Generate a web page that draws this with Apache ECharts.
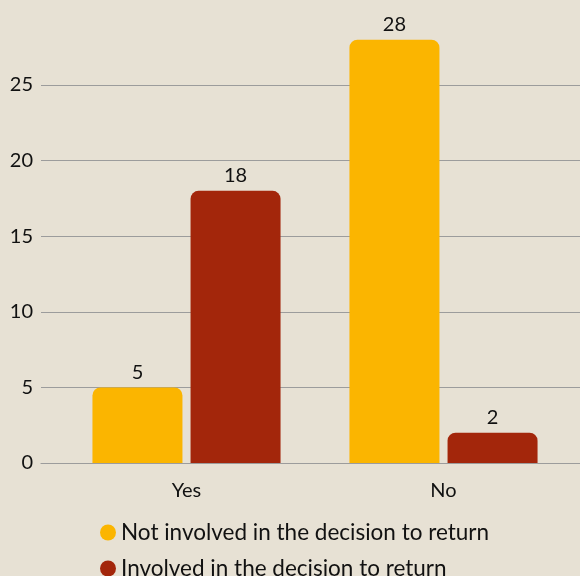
<!DOCTYPE html>
<html>
<head>
<meta charset="utf-8">
<script src="https://cdn.jsdelivr.net/npm/echarts@6/dist/echarts.min.js"></script>
<style>
  html, body { margin: 0; padding: 0; background: #e7e1d4; }
  #chart { width: 580px; height: 576px; }
</style>
</head>
<body>
<div id="chart"></div>
<script>
const categories = ['Yes', 'No']
const notInvolved = [5, 28]
const involved = [18, 2]
const seriesNames = ['Not involved in the decision to return', 'Involved in the decision to return']

const font = 'Lato, "Open Sans", sans-serif'
const lineCol = '#9c9c9c'

const chart = echarts.init(document.getElementById('chart'))
const barLabel = { show: true, position: 'top', distance: 5, color: '#111', fontSize: 20, fontFamily: font }

// one legend per row, stacked
const legendRow = (name, top) => ({
  data: [name], orient: 'vertical', left: 95, top,
  itemWidth: 16, itemHeight: 16, icon: 'circle', itemGap: 6,
  textStyle: { color: '#111', fontSize: 22.5, fontFamily: font }
})

chart.setOption({
  backgroundColor: '#e7e1d4',
  animation: false,
  grid: [
    { left: 58, right: 8, top: 9.4, bottom: 113 },
    // wider grid only for the horizontal lines, which run past the bars
    { left: 41, right: 0, top: 9.4, bottom: 113 }
  ],
  xAxis: [
    {
      type: 'category', data: categories, gridIndex: 0,
      axisLine: { show: false }, axisTick: { show: false },
      axisLabel: { color: '#111', fontSize: 20, fontFamily: font, margin: 18 }
    },
    {
      type: 'category', data: categories, gridIndex: 1,
      axisLine: { show: true, lineStyle: { color: lineCol, width: 1.2 } },
      axisTick: { show: false }, axisLabel: { show: false }
    }
  ],
  yAxis: [
    {
      type: 'value', gridIndex: 0, min: 0, max: 30, interval: 5,
      axisLine: { show: false }, axisTick: { show: false },
      axisLabel: { show: false }, splitLine: { show: false }
    },
    {
      type: 'value', gridIndex: 1, min: 0, max: 30, interval: 5,
      axisLine: { show: false }, axisTick: { show: false },
      axisLabel: { color: '#111', fontSize: 20, fontFamily: font, margin: 8, showMaxLabel: false },
      splitLine: { show: true, showMaxLine: false, lineStyle: { color: lineCol, width: 1.2 } }
    }
  ],
  legend: [legendRow(seriesNames[0], 516), legendRow(seriesNames[1], 552)],
  series: [
    {
      name: seriesNames[0], type: 'bar', data: notInvolved, barWidth: 90, barGap: '9%',
      itemStyle: { color: '#fbb500', borderRadius: [8, 8, 0, 0] }, label: barLabel
    },
    {
      name: seriesNames[1], type: 'bar', data: involved, barWidth: 90, barGap: '9%',
      itemStyle: { color: '#a3260b', borderRadius: [8, 8, 0, 0] }, label: barLabel
    }
  ]
})
</script>
</body>
</html>
